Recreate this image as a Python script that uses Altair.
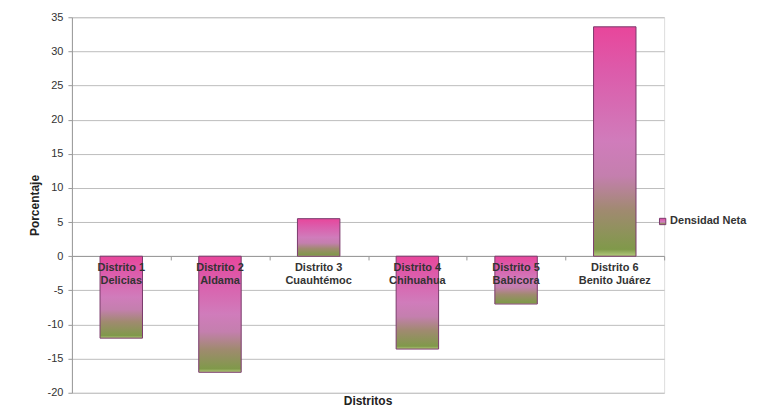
import altair as alt
import pandas as pd

distritos = ["Distrito 1", "Distrito 2", "Distrito 3", "Distrito 4", "Distrito 5", "Distrito 6"]
nombres = ["Delicias", "Aldama", "Cuauhtémoc", "Chihuahua", "Babicora", "Benito Juárez"]
valores = [-12.0, -17.0, 5.5, -13.6, -7.0, 33.6]
serie = "Densidad Neta"
y_ticks = list(range(-20, 40, 5))

df = pd.DataFrame({
    "distrito": distritos,
    "etiqueta": [d + "\n" + n for d, n in zip(distritos, nombres)],
    "valor": valores,
    "serie": [serie] * len(distritos),
})

FONT = "Liberation Sans"

grad = alt.LinearGradient(
    gradient="linear",
    stops=[
        alt.GradientStop(color="#e8469b", offset=0.0),
        alt.GradientStop(color="#dc5cab", offset=0.2),
        alt.GradientStop(color="#d07cbb", offset=0.5),
        alt.GradientStop(color="#c47fae", offset=0.65),
        alt.GradientStop(color="#a08a70", offset=0.8),
        alt.GradientStop(color="#80994a", offset=0.97),
        alt.GradientStop(color="#b4cc7c", offset=1.0),
    ],
    x1=0, x2=0, y1=0, y2=1,
)

x_axis = alt.Axis(
    labels=False, domainColor="#999999", tickColor="#999999", tickSize=4,
    tickBand="extent", offset=-137, grid=False, zindex=0,
)
y_scale = alt.Scale(domain=[-20, 35], nice=False, zero=False)
y_axis = alt.Axis(
    values=y_ticks, tickCount=12, grid=True, gridColor="#bdbdbd", domainColor="#999999",
    tickColor="#999999", tickSize=4, labelFont=FONT, labelFontSize=11,
    labelColor="#333333", labelPadding=5, titleFont=FONT, titleFontSize=12,
    titleFontWeight="bold", titleColor="#222222", titlePadding=6,
    labelExpr="toString(datum.value)", labelOverlap=False,
)

bars = alt.Chart(df).mark_bar(
    fill=grad, strokeWidth=1, width=alt.RelativeBandSize(0.43)
).encode(
    x=alt.X("distrito:N", sort=distritos, title=None,
            scale=alt.Scale(paddingInner=0, paddingOuter=0), axis=x_axis),
    y=alt.Y("valor:Q", scale=y_scale, title="Porcentaje", axis=y_axis),
    y2=alt.datum(0),
    stroke=alt.Stroke(
        "serie:N",
        scale=alt.Scale(range=["#7a3a6c"]),
        legend=alt.Legend(
            title=None, orient="none", legendX=586, legendY=199,
            symbolType="square", symbolSize=40, symbolFillColor="#d4509f",
            symbolStrokeWidth=1, labelFont=FONT, labelFontSize=11,
            labelFontWeight="bold", labelColor="#333333", labelOffset=2,
        ),
    ),
)

labels = alt.Chart(df).mark_text(
    font=FONT, fontSize=11, fontWeight="bold", color="#333333",
    baseline="top", dy=6, lineBreak="\n", lineHeight=13,
).encode(
    x=alt.X("distrito:N", sort=distritos, title=None,
            scale=alt.Scale(paddingInner=0, paddingOuter=0), axis=x_axis),
    y=alt.Y(datum=0, type="quantitative", scale=y_scale, title="Porcentaje", axis=y_axis),
    text="etiqueta:N",
)

chart = alt.layer(bars, labels).properties(
    width=593,
    height=376,
    title=alt.TitleParams(
        "Distritos", orient="bottom", font=FONT, fontSize=12, fontWeight="bold",
        color="#222222", offset=-2,
    ),
    autosize=alt.AutoSizeParams(type="none"),
    padding={"left": 64, "top": 9, "right": 100, "bottom": 17},
).configure_view(stroke=None).configure(background="white")

chart.save("out.html", embed_options={"renderer": "svg", "actions": False})
